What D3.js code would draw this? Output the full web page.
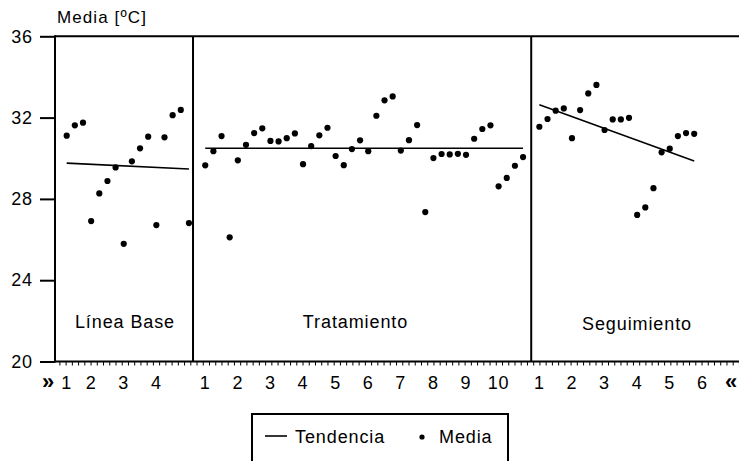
<!DOCTYPE html>
<html>
<head>
<meta charset="utf-8">
<script src="https://cdn.jsdelivr.net/npm/d3@7"></script>
<style>
  html, body { margin: 0; padding: 0; background: #fff; }
  svg { display: block; font-family: "Liberation Sans", Arial, sans-serif; }
</style>
</head>
<body>
<svg id="chart" width="739" height="461"></svg>
<script>
// ---------- DATA ----------
const phases = ["Línea Base", "Tratamiento", "Seguimiento"];
const baseIdx = d3.range(0, 16);
const baseVals = [31.11, 31.62, 31.75, 26.91, 28.27, 28.88, 29.55, 25.79, 29.85, 30.49, 31.06, 26.71, 31.03, 32.12, 32.38, 26.81];
const treatIdx = d3.range(17, 57);
const treatVals = [29.65, 30.35, 31.09, 26.11, 29.90, 30.66, 31.24, 31.47, 30.85, 30.83,
                   30.99, 31.22, 29.71, 30.60, 31.13, 31.50, 30.11, 29.66, 30.45, 30.88,
                   30.35, 32.09, 32.85, 33.04, 30.38, 30.89, 31.63, 27.35, 30.01, 30.21,
                   30.19, 30.22, 30.17, 30.96, 31.44, 31.62, 28.62, 29.03, 29.63, 30.06];
const followIdx = d3.range(58, 78);
const followVals = [31.55, 31.93, 32.34, 32.45, 30.99, 32.37, 33.19, 33.61, 31.39, 31.91,
                    31.91, 31.99, 27.21, 27.58, 28.53, 30.29, 30.47, 31.09, 31.24, 31.20];
// trend lines: [startIndex, startValue, endIndex, endValue]
const trendBase = [0, 29.76, 15, 29.47];
const trendTreat = [17, 30.49, 56, 30.49];
const trendFollow = [58, 32.63, 77, 29.86];
// phase dividers (index positions)
const dividers = [15.5, 57];
// x tick labels per phase
const tickBasePos = [0, 3, 7, 11];
const tickBaseLab = ["1", "2", "3", "4"];
const tickTreatPos = [17, 21, 25, 29, 33, 37, 41, 45, 49, 53];
const tickTreatLab = ["1", "2", "3", "4", "5", "6", "7", "8", "9", "10"];
const tickFollowPos = [58, 62, 66, 70, 74, 78];
const tickFollowLab = ["1", "2", "3", "4", "5", "6"];
const yTicks = [20, 24, 28, 32, 36];

// ---------- SCALES ----------
const svg = d3.select("#chart");
const x = d3.scaleLinear().domain([0, 77]).range([66.7, 694.2]);
const y = d3.scaleLinear().domain([20, 36]).range([361.5, 36.3]);
const xLeft = x.invert(55), xRight = x.invert(745);
const FS = 18, LS = "0.9px";

// ---------- AXES / FRAME ----------
const yAxis = d3.axisLeft(y).tickValues(yTicks).tickSize(15).tickPadding(7).tickFormat(d3.format("d"));
const gy = svg.append("g").attr("transform", `translate(${x(xLeft)},0)`).call(yAxis);
gy.select(".domain").remove();
gy.selectAll(".tick line").attr("stroke", "#000").attr("stroke-width", 2);
gy.selectAll(".tick text").attr("font-size", FS).attr("letter-spacing", LS).attr("fill", "#000")
  .attr("font-family", "Liberation Sans, Arial, sans-serif");

// top and bottom borders
svg.append("line").attr("x1", x(xLeft)).attr("x2", x(xRight)).attr("y1", y(36)).attr("y2", y(36))
  .attr("stroke", "#000").attr("stroke-width", 2);
svg.append("line").attr("x1", x(xLeft)).attr("x2", x(xRight)).attr("y1", y(20)).attr("y2", y(20))
  .attr("stroke", "#000").attr("stroke-width", 2);
// left axis line
svg.append("line").attr("x1", x(xLeft)).attr("x2", x(xLeft)).attr("y1", y(36) - 1).attr("y2", y(20) + 1)
  .attr("stroke", "#000").attr("stroke-width", 2);
// dividers
svg.selectAll("line.div").data(dividers).join("line").attr("class", "div")
  .attr("x1", d => x(d)).attr("x2", d => x(d)).attr("y1", y(36)).attr("y2", y(20))
  .attr("stroke", "#000").attr("stroke-width", 2);

// small x ticks
const minorTicks = d3.range(xLeft + 0.6, xRight, 0.765);
svg.selectAll("line.mt").data(minorTicks).join("line").attr("class", "mt")
  .attr("x1", d => x(d)).attr("x2", d => x(d)).attr("y1", y(20)).attr("y2", y(20) + 4)
  .attr("stroke", "#000").attr("stroke-width", 1);

// x tick labels
const xLabels = [];
tickBasePos.forEach((p, i) => xLabels.push([p, tickBaseLab[i]]));
tickTreatPos.forEach((p, i) => xLabels.push([p, tickTreatLab[i]]));
tickFollowPos.forEach((p, i) => xLabels.push([p, tickFollowLab[i]]));
svg.selectAll("text.xl").data(xLabels).join("text").attr("class", "xl")
  .attr("x", d => x(d[0])).attr("y", 389).attr("text-anchor", "middle")
  .attr("font-size", FS).attr("letter-spacing", LS).text(d => d[1]);
svg.append("text").attr("x", 48).attr("y", 389).attr("text-anchor", "middle")
  .attr("font-size", FS + 4).attr("font-weight", "bold").text("»");
svg.append("text").attr("x", 731).attr("y", 389).attr("text-anchor", "middle")
  .attr("font-size", FS + 4).attr("font-weight", "bold").text("«");

// y title
svg.append("text").attr("x", 57).attr("y", 23).attr("font-size", FS - 1).attr("letter-spacing", "1.1px")
  .text("Media [ºC]");

// ---------- TREND LINES ----------
[trendBase, trendTreat, trendFollow].forEach(t => {
  svg.append("line").attr("x1", x(t[0])).attr("y1", y(t[1])).attr("x2", x(t[2])).attr("y2", y(t[3]))
    .attr("stroke", "#000").attr("stroke-width", 1.6);
});

// ---------- POINTS ----------
const pts = [];
baseIdx.forEach((p, i) => pts.push([p, baseVals[i]]));
treatIdx.forEach((p, i) => pts.push([p, treatVals[i]]));
followIdx.forEach((p, i) => pts.push([p, followVals[i]]));
svg.selectAll("circle.pt").data(pts).join("circle").attr("class", "pt")
  .attr("cx", d => x(d[0])).attr("cy", d => y(d[1])).attr("r", 3.1).attr("fill", "#000");

// ---------- PHASE LABELS ----------
const phaseX = [(x(xLeft) + x(dividers[0])) / 2 + 1, 355.5, 637];
svg.selectAll("text.ph").data(phases).join("text").attr("class", "ph")
  .attr("x", (d, i) => phaseX[i]).attr("y", (d, i) => i === 2 ? 330 : 328)
  .attr("text-anchor", "middle").attr("font-size", FS).attr("letter-spacing", "0.9px").text(d => d);

// ---------- LEGEND ----------
const lg = svg.append("g");
lg.append("rect").attr("x", 252).attr("y", 414).attr("width", 256).attr("height", 60)
  .attr("fill", "none").attr("stroke", "#000").attr("stroke-width", 2);
lg.append("line").attr("x1", 265).attr("x2", 287).attr("y1", 436).attr("y2", 436)
  .attr("stroke", "#000").attr("stroke-width", 1.6);
lg.append("text").attr("x", 295).attr("y", 443).attr("font-size", FS).attr("letter-spacing", "0.9px").text("Tendencia");
lg.append("circle").attr("cx", 422).attr("cy", 437).attr("r", 2.6).attr("fill", "#000");
lg.append("text").attr("x", 439).attr("y", 443).attr("font-size", FS).attr("letter-spacing", "0.9px").text("Media");
</script>
</body>
</html>
